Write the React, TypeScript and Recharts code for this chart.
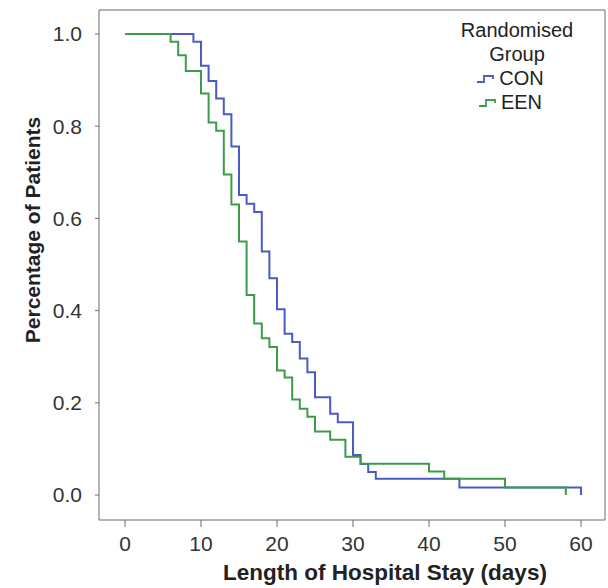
import React from 'react';
import { LineChart, Line, XAxis, YAxis, CartesianGrid, Legend, Label } from 'recharts';

// Kaplan-Meier style step data
const conDays = [0, 9, 10, 11, 12, 13, 14, 15, 16, 17, 18, 19, 20, 21, 22, 23, 24, 25, 27, 28, 30, 31, 32, 33, 44, 60];
const conValues = [1.0, 0.983, 0.931, 0.898, 0.86, 0.826, 0.756, 0.651, 0.632, 0.614, 0.528, 0.47, 0.403, 0.35, 0.332, 0.296, 0.266, 0.212, 0.176, 0.158, 0.087, 0.067, 0.05, 0.035, 0.016, 0];

const eenDays = [0, 6, 7, 8, 10, 11, 12, 13, 14, 15, 16, 17, 18, 19, 20, 21, 22, 23, 24, 25, 27, 29, 31, 40, 42, 50, 58];
const eenValues = [1.0, 0.983, 0.954, 0.92, 0.871, 0.808, 0.79, 0.695, 0.63, 0.55, 0.434, 0.372, 0.34, 0.321, 0.27, 0.255, 0.207, 0.187, 0.17, 0.138, 0.12, 0.083, 0.068, 0.051, 0.035, 0.016, 0];

const xTicks = [0, 10, 20, 30, 40, 50, 60];
const yTicks = [0, 0.2, 0.4, 0.6, 0.8, 1.0];

const FONT = '"Liberation Sans", Arial, Helvetica, sans-serif';
const BLUE = '#4a5bc4';
const GREEN = '#3c9c4a';
const FRAME = '#6b6b6b';

const conData = conDays.map((d, i) => ({ day: d, value: conValues[i] }));
const eenData = eenDays.map((d, i) => ({ day: d, value: eenValues[i] }));

const renderLegend = (props: any) => {
  const { payload = [] } = props;
  return (
    <div style={{ fontFamily: FONT, fontSize: 20, color: '#222', lineHeight: '24px', textAlign: 'center' }}>
      <div>Randomised</div>
      <div>Group</div>
      {payload.map((entry: any) => (
        <div key={entry.value} style={{ display: 'flex', alignItems: 'center', justifyContent: 'center', marginLeft: -14 }}>
          <svg width={20} height={12} style={{ marginRight: 3 }}>
            <path d="M1 10 H8 V4 H17 V7" fill="none" stroke={entry.color} strokeWidth={1.8} />
          </svg>
          <span>{entry.value}</span>
        </div>
      ))}
    </div>
  );
};

const YTitle = ({ viewBox }: any) => {
  const cx = viewBox.x + 32;
  const cy = viewBox.y + viewBox.height / 2 - 35;
  return (
    <text x={cx} y={cy} transform={`rotate(-90 ${cx} ${cy})`} textAnchor="middle" dominantBaseline="central"
      fontFamily={FONT} fontSize={21} fontWeight="bold" fill="#222">
      Percentage of Patients
    </text>
  );
};

const XTitle = ({ viewBox }: any) => {
  const cx = viewBox.x + viewBox.width / 2 + 33;
  const cy = viewBox.y + 60;
  return (
    <text x={cx} y={cy} textAnchor="middle" fontFamily={FONT} fontSize={22.5} fontWeight="bold" fill="#222">
      Length of Hospital Stay (days)
    </text>
  );
};

const App = () => {
  return (
    <div style={{ position: 'absolute', left: 0, top: 0, background: '#fff' }}>
      <LineChart width={608} height={588} margin={{ top: 10, right: 3, bottom: 0, left: 0 }}>
        <CartesianGrid
          stroke={FRAME}
          horizontalCoordinatesGenerator={({ offset }: any) => [offset.top]}
          verticalCoordinatesGenerator={({ offset }: any) => [offset.left + offset.width]}
        />
        <XAxis
          dataKey="day"
          type="number"
          domain={[0, 60]}
          ticks={xTicks}
          padding={{ left: 26, right: 24 }}
          height={68}
          stroke={FRAME}
          tickSize={7}
          tickMargin={9}
          tick={{ fill: '#333', fontSize: 21, fontFamily: FONT }}
          allowDuplicatedCategory={false}
        >
          <Label content={<XTitle />} />
        </XAxis>
        <YAxis
          type="number"
          domain={[0, 1]}
          ticks={yTicks}
          padding={{ top: 24, bottom: 25 }}
          width={99}
          stroke={FRAME}
          tickSize={4}
          tickMargin={13}
          tickFormatter={(v: number) => v.toFixed(1)}
          tick={{ fill: '#333', fontSize: 21, fontFamily: FONT }}
        >
          <Label content={<YTitle />} />
        </YAxis>
        <Legend
          layout="vertical"
          align="center"
          verticalAlign="middle"
          content={renderLegend}
          wrapperStyle={{ top: 18, left: 437, width: 160 }}
        />
        <Line data={conData} dataKey="value" name="CON" type="stepAfter" stroke={BLUE} strokeWidth={2}
          dot={false} isAnimationActive={false} />
        <Line data={eenData} dataKey="value" name="EEN" type="stepAfter" stroke={GREEN} strokeWidth={2}
          dot={false} isAnimationActive={false} />
      </LineChart>
    </div>
  );
};

export default App;
